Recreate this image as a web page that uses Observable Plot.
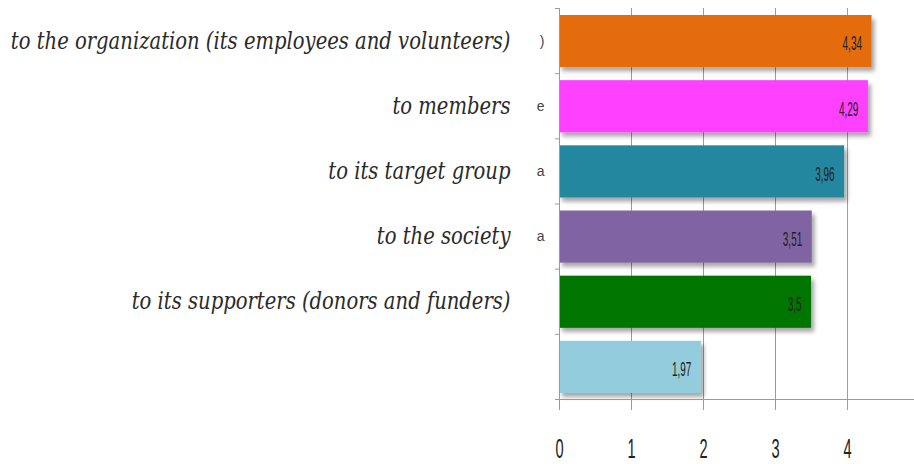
<!DOCTYPE html>
<html>
<head>
<meta charset="utf-8">
<script src="https://cdn.jsdelivr.net/npm/d3@7"></script>
<script src="https://cdn.jsdelivr.net/npm/@observablehq/plot@0.6"></script>
<style>
  html, body { margin: 0; padding: 0; background: #fff; }
  #chart { width: 914px; height: 464px; overflow: hidden; }
</style>
</head>
<body>
<div id="chart"></div>
<script>
// ---- data ----
const categories = [
  "to the organization (its employees and volunteers)",
  "to members",
  "to its target group",
  "to the society",
  "to its supporters (donors and funders)",
  ""
];
const values = [4.34, 4.29, 3.96, 3.51, 3.5, 1.97];
const barColors = ["#E46C0A", "#FF40FF", "#23879F", "#8064A2", "#007600", "#93CDDD"];
const clippedTickEnds = [")", "e", "a", "a", "", ""];
const xTicks = [0, 1, 2, 3, 4];
const gridTicks = [1, 2, 3, 4];

const rows = values.map((v, i) => ({
  i, label: categories[i], value: v, color: barColors[i], stray: clippedTickEnds[i]
}));
const fmt = v => String(v).replace(".", ",");
const gray = "#9a9a9a";
const serif = "'DejaVu Serif', 'Liberation Serif', serif";
const sans = "'Liberation Sans', Arial, sans-serif";

const chart = Plot.plot({
  width: 914,
  height: 464,
  marginLeft: 559,
  marginRight: 0,
  marginTop: 8,
  marginBottom: 65,
  x: { type: "linear", domain: [0, 4.93], label: null },
  y: { type: "linear", domain: [0, categories.length], reverse: true, label: null },
  marks: [
    Plot.gridX(gridTicks, { stroke: gray, strokeOpacity: 1 }),
    Plot.rect(rows, {
      x1: 0, x2: "value", y1: "i", y2: d => d.i + 1,
      insetTop: 7, insetBottom: 6, fill: "color"
    }),
    Plot.ruleX([0], { stroke: gray }),
    Plot.ruleY([categories.length], { stroke: gray, insetLeft: -4 }),
    Plot.axisY(d3.range(categories.length + 1), {
      tickSize: 4, tickFormat: () => "", stroke: gray
    }),
    Plot.axisX(xTicks, {
      tickSize: 11, tickPadding: 28, fontSize: 27, stroke: gray, fill: "#222",
      fontFamily: sans, tickFormat: d => String(d)
    }),
    Plot.text(rows, {
      x: "value", y: d => d.i + 0.5, text: d => fmt(d.value),
      textAnchor: "end", dx: -10, dy: 3, fontSize: 20, fill: "#222", fontFamily: sans
    }),
    Plot.text(rows, {
      frameAnchor: "left", y: d => d.i + 0.5, text: "label",
      textAnchor: "end", dx: -49, fontSize: 24, fontStyle: "italic",
      fill: "#2a2a2a", fontFamily: serif
    }),
    Plot.text(rows, {
      frameAnchor: "left", y: d => d.i + 0.5, text: "stray",
      textAnchor: "end", dx: -15, fontSize: 14, fill: "#444", fontFamily: sans
    })
  ]
});

document.getElementById("chart").appendChild(chart);

// drop shadow on bars
const svg = d3.select(chart);
const defs = svg.insert("defs", ":first-child");
const f = defs.append("filter").attr("id", "barShadow")
  .attr("x", "-5%").attr("y", "-20%").attr("width", "115%").attr("height", "160%");
f.append("feDropShadow").attr("dx", 3).attr("dy", 4).attr("stdDeviation", 2)
  .attr("flood-color", "#000").attr("flood-opacity", 0.35);
svg.select('g[aria-label="rect"]').attr("filter", "url(#barShadow)");

// horizontal compression of texts (condensed look)
function squeeze(el, s) {
  const x = +el.getAttribute("x") || 0;
  const y = +el.getAttribute("y") || 0;
  const t = el.getAttribute("transform") || "";
  el.setAttribute("transform", `${t} translate(${x},${y}) scale(${s},1) translate(${-x},${-y})`);
}
svg.selectAll('g[aria-label="x-axis tick label"] text').each(function() { squeeze(this, 0.54); });
const textGroups = Array.from(chart.querySelectorAll('g[aria-label="text"]'));
if (textGroups[0]) textGroups[0].querySelectorAll("text").forEach(el => squeeze(el, 0.5));
if (textGroups[1]) {
  const labelEls = Array.from(textGroups[1].querySelectorAll("text"));
  const longest = d3.max(labelEls, el => el.getComputedTextLength());
  const s = Math.min(1, 500 / longest);
  labelEls.forEach(el => squeeze(el, s));
}
</script>
</body>
</html>
